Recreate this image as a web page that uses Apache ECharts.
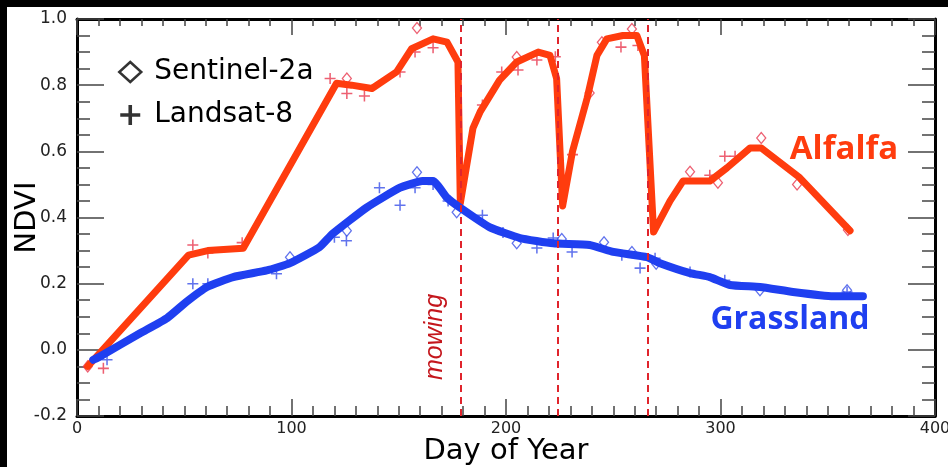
<!DOCTYPE html>
<html><head><meta charset="utf-8">
<script src="https://cdn.jsdelivr.net/npm/echarts@6/dist/echarts.min.js"></script>
<style>html,body{margin:0;padding:0;background:#fff}#c{width:948px;height:467px}</style>
</head><body><div id="c"></div>
<script>
// ---- data (day of year, NDVI) ----
const alfalfaCurve = [[5,-0.05],[52,0.286],[61,0.30],[77.5,0.307],[121,0.806],[128,0.80],[137.5,0.79],[149,0.84],[156,0.91],[166,0.94],[172.5,0.93],[177.6,0.87],[178.7,0.443],[184.6,0.67],[188,0.72],[197,0.815],[205,0.87],[215,0.90],[220.5,0.89],[223.6,0.82],[226.4,0.435],[231,0.60],[237.8,0.76],[242.4,0.89],[247,0.94],[254.5,0.95],[261,0.95],[264.5,0.89],[268.8,0.356],[276.5,0.45],[282.5,0.51],[295,0.51],[303,0.55],[313.8,0.61],[319,0.61],[337,0.52],[360.4,0.36]];
const grassCurve = [[7.6,-0.03],[10.7,-0.02],[29.4,0.05],[42,0.096],[51,0.145],[60.6,0.19],[72.8,0.22],[88.5,0.24],[99.3,0.262],[113,0.31],[119,0.35],[135,0.43],[150.6,0.49],[161,0.51],[166,0.51],[172.5,0.46],[178.5,0.43],[192.5,0.37],[206.5,0.338],[222,0.322],[239,0.317],[250,0.296],[265.7,0.28],[271.8,0.262],[285.8,0.232],[295,0.22],[304.4,0.196],[318.4,0.19],[333.8,0.175],[352.5,0.162],[366.4,0.162]];
const alfalfaSentinel = [[5,-0.05],[125.8,0.82],[158.5,0.973],[205,0.885],[239,0.776],[244.7,0.93],[258.7,0.97],[285.8,0.538],[298.8,0.505],[319,0.64],[335.7,0.5],[359.4,0.362]];
const alfalfaLandsat = [[12.3,-0.056],[54,0.317],[61,0.293],[77,0.324],[118,0.82],[125.8,0.775],[134,0.767],[150.6,0.84],[157.6,0.90],[166,0.913],[189,0.74],[198,0.84],[205.6,0.846],[214.4,0.876],[223,0.886],[231,0.59],[253.6,0.915],[261.5,0.92],[295,0.528],[302,0.585],[306.8,0.585]];
const grassSentinel = [[99.3,0.28],[125.8,0.36],[158.5,0.537],[177,0.416],[205,0.322],[226,0.335],[245.7,0.325],[258.7,0.296],[270,0.26],[318.4,0.18],[359,0.18]];
const grassLandsat = [[14,-0.03],[54,0.2],[61,0.2],[93,0.23],[120,0.34],[125.6,0.33],[141,0.49],[150.6,0.437],[157.6,0.49],[166,0.50],[173,0.45],[189,0.407],[198.6,0.355],[214.4,0.308],[222,0.338],[230.8,0.296],[254,0.286],[262.5,0.247],[269.5,0.277],[285.8,0.235],[302,0.21],[359,0.175]];
const mowingDays = [178.7, 224, 266];
const xRange = [0, 400, 100];
const yRange = [-0.2, 1.0, 0.2];

const FONT = 'DejaVu Sans';
const RED = '#ff3c0e', BLUE = '#1f3ff0', RED_M = '#e8384f', BLUE_M = '#3a50e8';
const plusPath = 'path://M4.3,0H5.7V4.3H10V5.7H5.7V10H4.3V5.7H0V4.3H4.3Z';
const plusLegend = 'path://M8.2,0H11.8V8.2H20V11.8H11.8V20H8.2V11.8H0V8.2H8.2Z';

const tickStyle = {color:'#444', width:1.5};
function xAx(pos, show, major, minor) {
  return {type:'value', position:pos, min:xRange[0], max:xRange[1], interval:xRange[2],
    axisLine:{show:true, onZero:false, lineStyle:{color:'#000', width:3}},
    axisTick:{show:true, inside:true, length:major, lineStyle:tickStyle},
    minorTick:{show:true, splitNumber:10, length:minor, lineStyle:tickStyle},
    splitLine:{show:false},
    axisLabel:{show:show, margin:5, fontFamily:FONT, fontSize:16, color:'#222'},
    name: show ? 'Day of Year' : '', nameLocation:'middle', nameGap:21, nameMoveOverlap:false,
    nameTextStyle:{fontFamily:FONT, fontSize:29, color:'#000'}};
}
function yAx(pos, show) {
  return {type:'value', position:pos, min:yRange[0], max:yRange[1], interval:yRange[2],
    axisLine:{show:true, onZero:false, lineStyle:{color:'#000', width:3}},
    axisTick:{show:true, inside:true, length:27, lineStyle:tickStyle},
    minorTick:{show:true, splitNumber:4, length:13, lineStyle:tickStyle},
    splitLine:{show:false},
    axisLabel:{show:show, margin:10, fontFamily:FONT, fontSize:17, color:'#222',
      formatter: v => v.toFixed(1)},
    name: show ? 'NDVI' : '', nameLocation:'middle', nameGap:35, nameRotate:90, nameMoveOverlap:false,
    nameTextStyle:{fontFamily:FONT, fontSize:29, color:'#000'}};
}

const chart = echarts.init(document.getElementById('c'), null, {renderer:'canvas'});
chart.setOption({
  animation:false,
  backgroundColor:'#fff',
  grid:{left:77, right:13, top:19, bottom:51, outerBoundsMode:'none', containLabel:false},
  xAxis:[xAx('bottom', true, 17, 10), xAx('top', false, 16, 7)],
  yAxis:[yAx('left', true), yAx('right', false)],
  legend:{
    orient:'vertical', left:113, top:52, itemWidth:22, itemHeight:20, itemGap:13,
    selectedMode:false,
    textStyle:{fontFamily:FONT, fontSize:28, color:'#000', lineHeight:30, padding:[0,0,0,8]},
    data:[
      {name:'Sentinel-2a', icon:'diamond', itemStyle:{color:'#fff', borderColor:'#000', borderWidth:2.5}},
      {name:'Landsat-8', icon:plusLegend, itemStyle:{color:'#000', borderWidth:0}}
    ]
  },
  series:[
    {name:'Sentinel-2a', type:'scatter', data:alfalfaSentinel, symbol:'diamond', symbolSize:[9,11], z:2,
      itemStyle:{color:'rgba(255,255,255,0)', borderColor:RED_M, borderWidth:1.3}},
    {name:'Landsat-8', type:'scatter', data:alfalfaLandsat, symbol:plusPath, symbolSize:11, z:2,
      itemStyle:{color:RED_M}},
    {name:'Sentinel-2a', type:'scatter', data:grassSentinel, symbol:'diamond', symbolSize:[9,11], z:2,
      itemStyle:{color:'rgba(255,255,255,0)', borderColor:BLUE_M, borderWidth:1.3}},
    {name:'Landsat-8', type:'scatter', data:grassLandsat, symbol:plusPath, symbolSize:11, z:2,
      itemStyle:{color:BLUE_M},
      markLine:{silent:true, symbol:['none','none'], label:{show:false},
        lineStyle:{color:'#e0242c', width:2, type:[7,5]},
        data: mowingDays.map(d => ({xAxis:d}))}},
    {name:'Alfalfa', type:'line', data:alfalfaCurve, symbol:'none', smooth:false, z:4,
      lineStyle:{color:RED, width:7, cap:'round', join:'round'}},
    {name:'Grassland', type:'line', data:grassCurve, symbol:'none', smooth:0.15, z:4,
      lineStyle:{color:BLUE, width:8, cap:'round', join:'round'}}
  ],
  graphic:[
    {type:'rect', shape:{x:0,y:0,width:948,height:7}, style:{fill:'#000'}, z:100},
    {type:'rect', shape:{x:0,y:0,width:7,height:467}, style:{fill:'#000'}, z:100},
    {type:'text', x:844, y:150, z:50, style:{text:'Alfalfa', fill:RED, font:'bold 33px "Open Sans"', align:'center', verticalAlign:'middle'}},
    {type:'text', x:790, y:320, z:50, style:{text:'Grassland', fill:BLUE, font:'bold 32px "Open Sans"', align:'center', verticalAlign:'middle'}},
    {type:'text', x:435, y:337, rotation:Math.PI/2, z:50, style:{text:'mowing', fill:'#c4161c', font:'italic 25px "Liberation Sans"', align:'center', verticalAlign:'middle'}}
  ]
});
</script></body></html>
